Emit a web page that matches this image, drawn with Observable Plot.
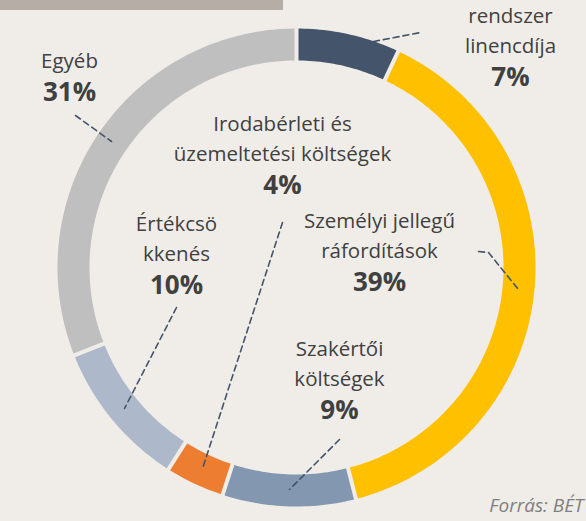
<!DOCTYPE html>
<html>
<head>
<meta charset="utf-8">
<script src="https://cdn.jsdelivr.net/npm/d3@7"></script>
<script src="https://cdn.jsdelivr.net/npm/@observablehq/plot@0.6"></script>
<style>
  html, body { margin: 0; padding: 0; background: #f0ede9; }
  #wrap { position: relative; width: 586px; height: 521px; overflow: hidden; }
  #titlebar { position: absolute; left: 0; top: 0; width: 283px; height: 10px; background: #b5ada6; }
</style>
</head>
<body>
<div id="wrap"><div id="titlebar"></div></div>
<script>
// ---- data ----
const categories = ["Informatikai rendszer licencdíja", "Személyi jellegű ráfordítások", "Szakértői költségek",
  "Irodabérleti és üzemeltetési költségek", "Értékcsökkenés", "Egyéb"];
const shares = [7, 39, 9, 4, 10, 31];
const colors = ["#44546a", "#ffc000", "#8497b0", "#ed7d31", "#adb9ca", "#bfbfbf"];
const labelNames = [["rendszer", "linencdíja"], ["Személyi jellegű", "ráfordítások"], ["Szakértői", "költségek"],
  ["Irodabérleti és", "üzemeltetési költségek"], ["Értékcsö", "kkenés"], ["Egyéb"]];
const labelPercents = ["7%", "39%", "9%", "4%", "10%", "31%"];
const sourceText = "Forrás: BÉT";

// ---- layout (pixels) ----
const W = 586, H = 521;
const cx = 296, cy = 267, rOuter = 239, rInner = 207;
const labelPos = [[510, 85], [379, 290], [339, 418], [282, 193], [176, 293], [69, 100]]; // percent baseline
const lineGap = 30;
const leaders = [
  [[373, 41], [420, 32]],
  [[478, 251], [488, 252], [518, 289]],
  [[339, 439], [289, 489]],
  [[282, 222], [202, 468]],
  [[176, 307], [124, 408]],
  [[75, 115], [111, 141]]
];

// ---- build ring polygons from the shares ----
const total = d3.sum(shares);
const ring = [];
const seps = [];
let cum = 0;
shares.forEach((v, i) => {
  const a0 = cum / total * 2 * Math.PI;
  cum += v;
  const a1 = cum / total * 2 * Math.PI;
  const n = Math.max(8, Math.ceil((a1 - a0) * 60));
  const pts = [];
  for (let k = 0; k <= n; k++) { const a = a0 + (a1 - a0) * k / n; pts.push([a, rOuter]); }
  for (let k = n; k >= 0; k--) { const a = a0 + (a1 - a0) * k / n; pts.push([a, rInner]); }
  pts.push([a0, rOuter]);
  pts.forEach(([a, r]) => ring.push({cat: categories[i], x: cx + r * Math.sin(a), y: cy - r * Math.cos(a)}));
  seps.push({x1: cx + (rInner - 2) * Math.sin(a0), y1: cy - (rInner - 2) * Math.cos(a0),
             x2: cx + (rOuter + 2) * Math.sin(a0), y2: cy - (rOuter + 2) * Math.cos(a0)});
});

const nameRows = [];
labelNames.forEach((lines, i) => {
  lines.forEach((t, j) => nameRows.push({t, x: labelPos[i][0], y: labelPos[i][1] - (lines.length - j) * lineGap - 3}));
});
const pctRows = labelPercents.map((t, i) => ({t, x: labelPos[i][0], y: labelPos[i][1]}));
const leaderRows = leaders.flatMap((pts, i) => pts.map(([x, y]) => ({id: i, x, y})));

const plot = Plot.plot({
  width: W, height: H,
  margin: 0,
  x: {domain: [0, W], range: [0, W], axis: null},
  y: {domain: [0, H], range: [0, H], axis: null},
  color: {domain: categories, range: colors},
  style: {background: "transparent", fontFamily: "'Open Sans', sans-serif"},
  marks: [
    Plot.line(ring, {x: "x", y: "y", z: "cat", fill: "cat", stroke: "none", curve: "linear"}),
    Plot.link(seps, {x1: "x1", y1: "y1", x2: "x2", y2: "y2", stroke: "#f0ede9", strokeWidth: 4}),
    Plot.line(leaderRows, {x: "x", y: "y", z: "id", stroke: "#44546a", strokeWidth: 1.6, strokeDasharray: "6,4"}),
    Plot.text(nameRows, {x: "x", y: "y", text: "t", fill: "#404040", fontSize: 20.5, lineAnchor: "bottom"}),
    Plot.text(pctRows, {x: "x", y: "y", text: "t", fill: "#404040", fontSize: 26, fontWeight: "bold", lineAnchor: "bottom"}),
    Plot.text([sourceText], {x: W - 3, y: 511, text: d => d, fill: "#7f7f7f", fontSize: 19, fontStyle: "italic", textAnchor: "end", lineAnchor: "bottom"})
  ]
});
document.getElementById("wrap").insertBefore(plot, document.getElementById("titlebar"));
</script>
</body>
</html>
